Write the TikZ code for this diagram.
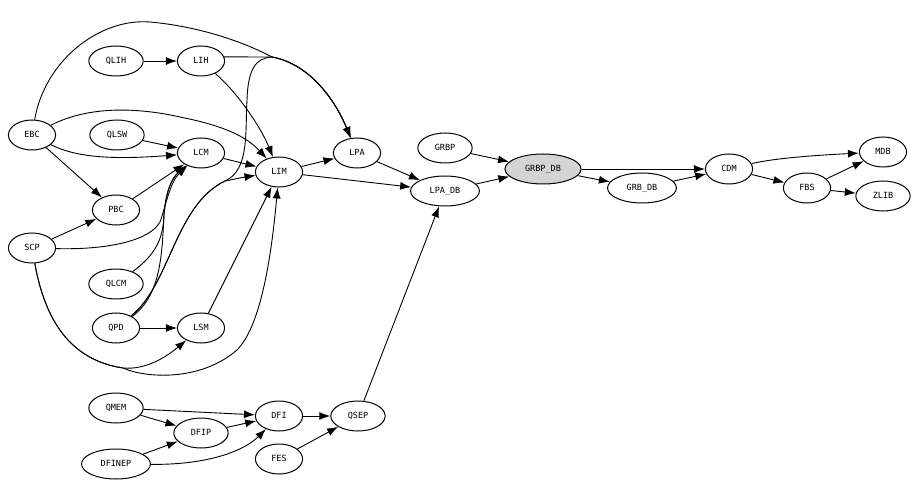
\documentclass[tikz,border=0pt]{standalone}
\usepackage{fontspec}
\setmonofont{DejaVu Sans Mono}
\usetikzlibrary{shapes.geometric,arrows.meta}

\begin{document}
\begin{tikzpicture}[x=1pt, y=-1pt,
		mod/.style={ellipse, draw, line width=1pt, font=\ttfamily\fontsize{8.5}{8.5}\selectfont, inner xsep=9pt, inner ysep=2pt, minimum height=30pt, text height=6pt, text depth=1pt},
		dep/.style={-{Latex[length=11pt,width=8pt]}, line width=0.9pt}]
		\useasboundingbox (0,0) rectangle (914,484);

		\node[mod] (QLIH) at (116,61) {QLIH};
		\node[mod] (LIH) at (201,61) {LIH};
		\node[mod] (EBC) at (32,135) {EBC};
		\node[mod] (QLSW) at (117,135) {QLSW};
		\node[mod] (LCM) at (201,153) {LCM};
		\node[mod] (LIM) at (279,172) {LIM};
		\node[mod] (LPA) at (357,153) {LPA};
		\node[mod] (GRBP) at (445,148) {GRBP};
		\node[mod] (LPAdb) at (445,191) {LPA\_DB};
		\node[mod, fill=black!17] (GRBPdb) at (543,169) {GRBP\_DB};
		\node[mod] (GRBdb) at (642,188) {GRB\_DB};
		\node[mod] (CDM) at (729,169) {CDM};
		\node[mod] (FBS) at (807,188) {FBS};
		\node[mod] (MDB) at (883,152) {MDB};
		\node[mod] (ZLIB) at (883,196) {ZLIB};
		\node[mod] (PBC) at (116,210) {PBC};
		\node[mod] (SCP) at (32,248) {SCP};
		\node[mod] (QLCM) at (116,284) {QLCM};
		\node[mod] (QPD) at (116,328) {QPD};
		\node[mod] (LSM) at (201,328) {LSM};
		\node[mod] (QMEM) at (116,408) {QMEM};
		\node[mod] (DFI) at (279,416) {DFI};
		\node[mod] (QSEP) at (358,416) {QSEP};
		\node[mod] (DFIP) at (201,433) {DFIP};
		\node[mod] (DFINEP) at (116,464) {DFINEP};
		\node[mod] (FES) at (279,459) {FES};

		\draw[dep] (QLIH)--(LIH);
		\draw[dep] (LIH) .. controls (240,95) and (262,130) .. (LIM);
		\draw[dep] (LIH.10)--(272,57) .. controls (310,64) and (335,100) .. (LPA);
		\draw[dep] (EBC) .. controls (45,60) and (100,18) .. (150,22) .. controls (195,26) and (240,40) .. (272,57) .. controls (310,64) and (335,100) .. (LPA);
		\draw[dep] (EBC) .. controls (90,105) and (140,108) .. (180,117) .. controls (220,125) and (245,135) .. (LIM);
		\draw[dep] (EBC) .. controls (75,157) and (110,160) .. (LCM);
		\draw[dep] (EBC)--(PBC);
		\draw[dep] (QLSW)--(LCM);
		\draw[dep] (LCM)--(LIM);
		\draw[dep] (PBC)--(LCM);
		\draw[dep] (SCP)--(PBC);
		\draw[dep] (SCP) .. controls (110,250) and (150,240) .. (160,222) .. controls (166,205) and (170,182) .. (LCM);
		\draw[dep] (QLCM) .. controls (155,255) and (163,240) .. (164,215) .. controls (166,190) and (172,178) .. (LCM);
		\draw[dep] (QPD) .. controls (162,295) and (162,250) .. (164,215) .. controls (166,190) and (172,178) .. (LCM);
		\draw[dep] (QPD) .. controls (170,285) and (175,205) .. (225,181) .. controls (235,179) and (245,177) .. (LIM);
		\draw[dep] (QPD) .. controls (170,285) and (175,205) .. (225,181) .. controls (250,170) and (245,130) .. (247,100) .. controls (248,70) and (255,58) .. (272,57) .. controls (310,64) and (335,100) .. (LPA);
		\draw[dep] (QPD)--(LSM);
		\draw[dep] (SCP) .. controls (45,320) and (70,360) .. (123,368) .. controls (145,370) and (165,358) .. (LSM);
		\draw[dep] (SCP) .. controls (45,320) and (70,360) .. (123,368) .. controls (145,378) and (200,382) .. (237,350) .. controls (262,325) and (272,250) .. (LIM);
		\draw[dep] (LSM)--(LIM);
		\draw[dep] (LIM)--(LPA);
		\draw[dep] (LIM)--(LPAdb);
		\draw[dep] (LPA)--(LPAdb);
		\draw[dep] (QSEP)--(LPAdb);
		\draw[dep] (GRBP)--(GRBPdb);
		\draw[dep] (LPAdb)--(GRBPdb);
		\draw[dep] (GRBPdb)--(CDM);
		\draw[dep] (GRBPdb)--(GRBdb);
		\draw[dep] (GRBdb)--(CDM);
		\draw[dep] (CDM) .. controls (775,158) and (820,155) .. (MDB);
		\draw[dep] (CDM)--(FBS);
		\draw[dep] (FBS)--(MDB);
		\draw[dep] (FBS)--(ZLIB);
		\draw[dep] (QMEM)--(DFI);
		\draw[dep] (QMEM)--(DFIP);
		\draw[dep] (DFIP)--(DFI);
		\draw[dep] (DFINEP)--(DFIP);
		\draw[dep] (DFINEP) .. controls (210,465) and (245,450) .. (DFI);
		\draw[dep] (DFI)--(QSEP);
		\draw[dep] (FES)--(QSEP);
	\end{tikzpicture}
\end{document}
